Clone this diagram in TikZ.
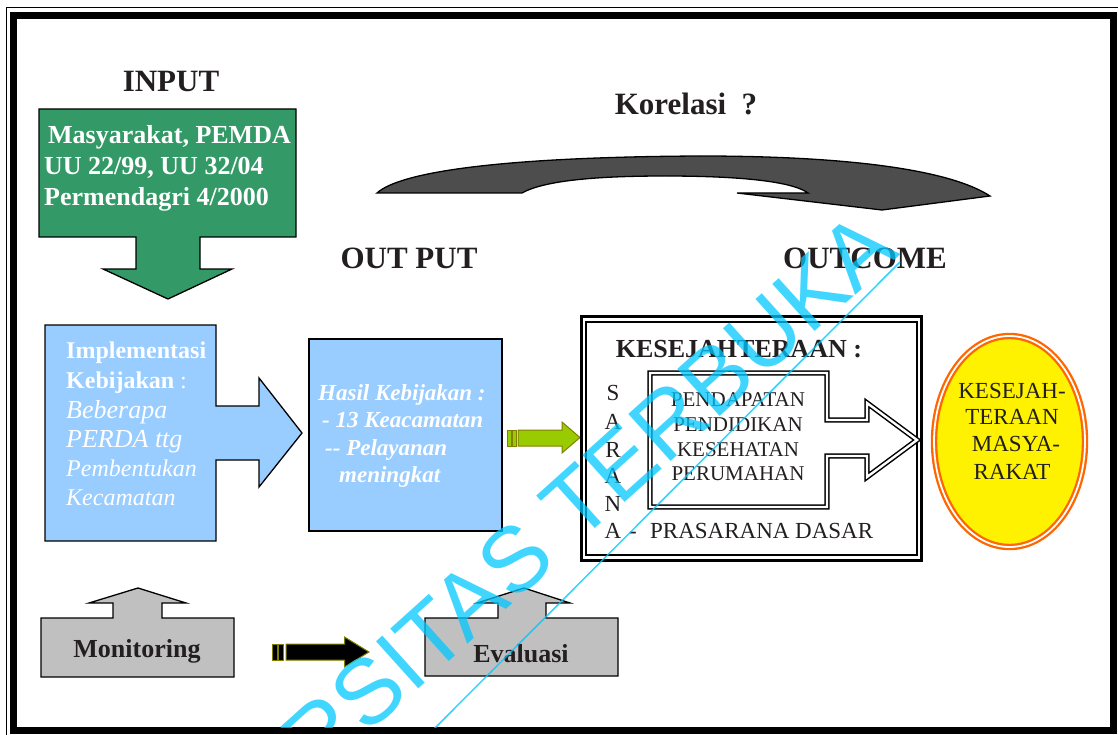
\documentclass[tikz,border=0pt]{standalone}
\usepackage{fontspec}
\setmainfont{Liberation Serif}
\newfontfamily\wmfont{Liberation Sans}
\usetikzlibrary{shapes.geometric}
\newcommand{\setfs}[1]{\fontsize{#1}{#1}\selectfont}
\definecolor{ink}{HTML}{231F20}
\definecolor{ingreen}{HTML}{339966}
\definecolor{lblue}{HTML}{99CCFF}
\definecolor{lgrey}{HTML}{C0C0C0}
\definecolor{dgrey}{HTML}{4D4D4D}
\definecolor{lime}{HTML}{99CC00}
\definecolor{olive}{HTML}{808000}
\definecolor{orng}{HTML}{FF6600}
\definecolor{wmcyan}{RGB}{0,200,255}
\tikzset{
  txt/.style={inner sep=0pt, anchor=base, text=ink},
  headtxt/.style={txt, font=\setfs{31}\bfseries},
  wtxt/.style={inner sep=0pt, anchor=base west, text=white},
  shapeline/.style={draw=black, line width=1.3pt, line join=miter},
}
\begin{document}
\begin{tikzpicture}[x=1pt,y=-1pt]
\useasboundingbox (0,0) rectangle (1118,735);
% frame
\draw[line width=1pt] (6.5,7.5) rectangle (1125,745);
\draw[line width=7pt] (13.5,15.5) rectangle (1113.5,730.5);

% headings
\node[headtxt] (input) at (171,92) {INPUT};
\node[headtxt] (korelasi) at (686,115) {Korelasi\ \ ?};
\node[headtxt] (output) at (409,268) {OUT PUT};
\node[headtxt] (outcome) at (865,268) {OUTCOME};

% curved arrow
\path[fill=dgrey, draw=black, line width=1.3pt]
  (377,193) .. controls (400,172) and (500,157) .. (700,156)
  .. controls (850,156) and (950,170) .. (990,196)
  -- (882,210) -- (737,193) -- (808,193)
  .. controls (790,180) and (730,176) .. (665,176)
  .. controls (600,176) and (545,180) .. (522,193) -- cycle;

% green input callout
\path[shapeline, fill=ingreen] (39,109) -- (296,109) -- (296,237) -- (200,237) -- (200,269)
  -- (232,269) -- (168,299) -- (103,269) -- (136,269) -- (136,237) -- (39,237) -- cycle;
\node[wtxt, font=\setfs{26}\bfseries] (in1) at (48,144) {Masyarakat, PEMDA};
\node[wtxt, font=\setfs{26}\bfseries] (in2) at (44,175) {UU 22/99, UU 32/04};
\node[wtxt, font=\setfs{26}\bfseries] (in3) at (44,206) {Permendagri 4/2000};

% blue implementation callout
\path[shapeline, fill=lblue] (45,325) -- (216,325) -- (216,406) -- (259,406) -- (259,378)
  -- (302,433) -- (259,487) -- (259,460) -- (216,460) -- (216,541) -- (45,541) -- cycle;
\node[wtxt, font=\setfs{24}\bfseries] (im1) at (66,358) {Implementasi};
\node[wtxt, font=\setfs{24}] (im2) at (66,388) {\textbf{Kebijakan} :};
\node[wtxt, font=\setfs{26}\itshape] (im3) at (66,418) {Beberapa};
\node[wtxt, font=\setfs{26}\itshape] (im4) at (66,447) {PERDA ttg};
\node[wtxt, font=\setfs{24}\itshape] (im5) at (66,476) {Pembentukan};
\node[wtxt, font=\setfs{24}\itshape] (im6) at (66,505) {Kecamatan};

% blue result box
\node[shapeline, fill=lblue, minimum width=193pt, minimum height=192pt, inner sep=0pt] (hasil) at (405.5,435) {};
\node[wtxt, font=\setfs{23}\bfseries\itshape] (h1) at (318,400) {Hasil Kebijakan :};
\node[wtxt, font=\setfs{23}\bfseries\itshape] (h2) at (322,427) {- 13 Keacamatan};
\node[wtxt, font=\setfs{23}\bfseries\itshape] (h3) at (325,455) {{-}{-} Pelayanan};
\node[wtxt, font=\setfs{23}\bfseries\itshape] (h4) at (339,482) {meningkat};

% small green arrow
\path[fill=lime, draw=olive, line width=1pt] (507,430) rectangle (511.5,446);
\path[fill=lime, draw=olive, line width=1pt] (512.5,430) rectangle (516.5,446);
\path[fill=lime, draw=olive, line width=1pt] (518,430) -- (562,430) -- (562,422) -- (580,437.5)
  -- (562,453) -- (562,446) -- (518,446) -- cycle;

% kesejahteraan box
\node[draw=black, line width=3pt, minimum width=340pt, minimum height=244pt, inner sep=0pt] (kes) at (751.5,438.5) {};
\node[draw=black, line width=1.2pt, minimum width=331pt, minimum height=233pt, inner sep=0pt] (kesin) at (751.5,438.5) {};
\node[txt, font=\setfs{26}\bfseries] (kestitle) at (739,357) {KESEJAHTERAAN :};
\path[fill=white, draw=black, double=white, line width=1.5pt, double distance=2.4pt]
  (650,373) -- (827,373) -- (827,420) -- (867,420) -- (867,403) -- (917,440) -- (867,477)
  -- (867,456) -- (827,456) -- (827,507) -- (650,507) -- cycle;
\node[txt, font=\setfs{21}] (k1) at (738,406) {PENDAPATAN};
\node[txt, font=\setfs{21}] (k2) at (738,431) {PENDIDIKAN};
\node[txt, font=\setfs{21}] (k3) at (738,456) {KESEHATAN};
\node[txt, font=\setfs{21}] (k4) at (738,480) {PERUMAHAN};
\node[txt, font=\setfs{23}] (s1) at (613,400) {S};
\node[txt, font=\setfs{23}] (s2) at (613,429) {A};
\node[txt, font=\setfs{23}] (s3) at (613,457) {R};
\node[txt, font=\setfs{23}] (s4) at (613,483) {A};
\node[txt, font=\setfs{23}] (s5) at (613,511) {N};
\node[txt, font=\setfs{23}] (s6) at (613,538) {A};
\node[txt, font=\setfs{23}] (dash) at (633,538) {-};
\node[txt, anchor=base west, font=\setfs{23}] (pras) at (650,538) {PRASARANA DASAR};

% ellipse
\node[ellipse, draw=orng, double=white, line width=2.3pt, double distance=1.8pt, fill=yellow,
  minimum width=151pt, minimum height=211pt, inner sep=0pt] (masy) at (1009.5,441.5) {};
\node[txt, font=\setfs{23}] (e1) at (1012,398) {KESEJAH-};
\node[txt, font=\setfs{23}] (e2) at (1012,424) {TERAAN};
\node[txt, font=\setfs{23}] (e3) at (1016,451) {MASYA-};
\node[txt, font=\setfs{23}] (e4) at (1012,479) {RAKAT};

% monitoring
\path[shapeline, fill=lgrey] (41,618) -- (113,618) -- (113,603) -- (89,603) -- (138,588) -- (186,603)
  -- (162,603) -- (162,618) -- (234,618) -- (234,677) -- (41,677) -- cycle;
\node[txt, font=\setfs{26}\bfseries] (mon) at (137,657) {Monitoring};

% black arrow
\path[fill=black, draw=olive, line width=1pt] (272,644) rectangle (277,660);
\path[fill=black, draw=olive, line width=1pt] (278.5,644) rectangle (283.5,660);
\path[fill=black, draw=olive, line width=1pt] (286,644) -- (344.5,644) -- (344.5,637) -- (369,652)
  -- (344.5,667) -- (344.5,660) -- (286,660) -- cycle;

% evaluasi
\path[shapeline, fill=lgrey] (425,618) -- (498,618) -- (498,603) -- (477,603) -- (524,588) -- (570,603)
  -- (546,603) -- (546,618) -- (618,618) -- (618,676) -- (425,676) -- cycle;
\node[txt, font=\setfs{26}\bfseries] (eval) at (521,662) {Evaluasi};

% watermark
\begin{scope}
\clip (17,19) rectangle (1110,727);
\draw[wmcyan, opacity=0.8, line width=1.5pt] (418,745) -- (900,262);
\node[inner sep=0pt, anchor=base east, rotate=42, text=wmcyan, text opacity=0.75,
  font=\wmfont\setfs{92}] (wm) at (901,254) {UNIVERSITAS TERBUKA};
\end{scope}
\end{tikzpicture}
\end{document}
